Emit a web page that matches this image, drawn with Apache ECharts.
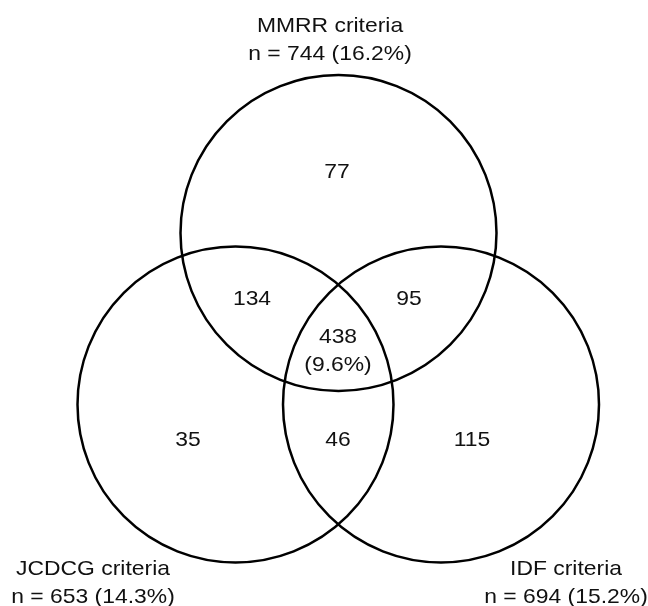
<!DOCTYPE html>
<html>
<head>
<meta charset="utf-8">
<script src="https://cdn.jsdelivr.net/npm/echarts@6/dist/echarts.min.js"></script>
<style>
  html, body { margin: 0; padding: 0; background: #fff; }
  #chart { width: 648px; height: 606px; }
</style>
</head>
<body>
<div id="chart"></div>
<script>
// ---- Data ----
const setNames = ['MMRR criteria', 'JCDCG criteria', 'IDF criteria'];
const setTotals = [744, 653, 694];
const setPercents = ['16.2%', '14.3%', '15.2%'];
// Regions: MMRR only, MMRR∩JCDCG, MMRR∩IDF, all three, JCDCG only, JCDCG∩IDF, IDF only
const regionNames = ['MMRR only', 'MMRR & JCDCG', 'MMRR & IDF', 'All three', 'JCDCG only', 'JCDCG & IDF', 'IDF only'];
const regionCounts = [77, 134, 95, 438, 35, 46, 115];
const regionPercents = [null, null, null, '9.6%', null, null, null];

// ---- Layout (plot units = pixels of a 648x606 canvas) ----
const circleLayout = [
  { cx: 338.5, cy: 233, r: 158 },
  { cx: 235.5, cy: 404.5, r: 158 },
  { cx: 441, cy: 404.5, r: 158 }
];
const setLabelLayout = [
  { x: 330, y: 40 },
  { x: 93, y: 583.5 },
  { x: 566, y: 583.5 }
];
const regionLabelLayout = [
  { x: 337, y: 172 },
  { x: 252, y: 299 },
  { x: 409, y: 299 },
  { x: 338, y: 351 },
  { x: 188, y: 440 },
  { x: 338, y: 440 },
  { x: 472, y: 440 }
];

const FONT = '"Liberation Sans", Arial, sans-serif';
const FS = 21;
const LH = 28;
const SX = 1.09;

const circleData = circleLayout.map((c, i) => [c.cx, c.cy, c.r, setNames[i]]);
const setLabelData = setLabelLayout.map((p, i) => [p.x, p.y, setNames[i] + '\nn = ' + setTotals[i] + ' (' + setPercents[i] + ')']);
const regionLabelData = regionLabelLayout.map((p, i) => [p.x, p.y,
  String(regionCounts[i]) + (regionPercents[i] ? '\n(' + regionPercents[i] + ')' : '')]);

function textItem(params, api) {
  const pt = api.coord([api.value(0), api.value(1)]);
  return {
    type: 'text',
    x: pt[0], y: pt[1],
    scaleX: SX,
    style: {
      text: api.value(2),
      font: FS + 'px ' + FONT,
      fill: '#111',
      align: 'center',
      verticalAlign: 'middle',
      lineHeight: LH
    }
  };
}

const chart = echarts.init(document.getElementById('chart'), null, { renderer: 'canvas' });
chart.setOption({
  backgroundColor: '#fff',
  animation: false,
  grid: { left: 0, right: 0, top: 0, bottom: 0 },
  xAxis: { type: 'value', min: 0, max: 648, show: false },
  yAxis: { type: 'value', min: 0, max: 606, inverse: true, show: false },
  series: [
    {
      type: 'custom',
      data: circleData,
      renderItem: function (params, api) {
        const c = api.coord([api.value(0), api.value(1)]);
        const r = api.size([api.value(2), 0])[0];
        return {
          type: 'circle',
          shape: { cx: c[0], cy: c[1], r: r },
          style: { fill: 'none', stroke: '#000', lineWidth: 2.5 }
        };
      }
    },
    {
      type: 'custom',
      data: setLabelData,
      dimensions: ['x', 'y', { name: 'text', type: 'ordinal' }],
      renderItem: textItem
    },
    {
      type: 'custom',
      data: regionLabelData,
      dimensions: ['x', 'y', { name: 'text', type: 'ordinal' }],
      renderItem: textItem
    }
  ]
});
</script>
</body>
</html>
